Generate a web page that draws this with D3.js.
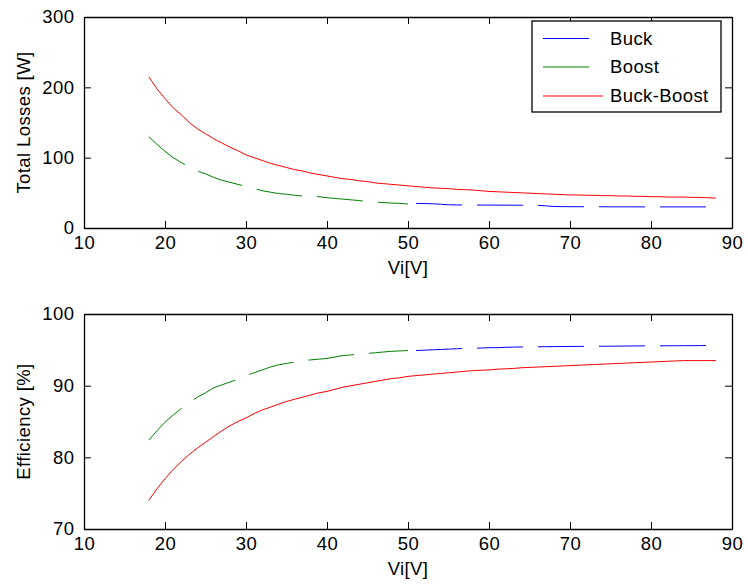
<!DOCTYPE html>
<html>
<head>
<meta charset="utf-8">
<script src="https://cdn.jsdelivr.net/npm/d3@7"></script>
<style>
  html, body { margin: 0; padding: 0; background: #fff; }
  svg { display: block; }
  text { font-family: "Liberation Sans", Arial, sans-serif; font-size: 18.5px; letter-spacing: 0.4px; fill: #000; }
</style>
</head>
<body>
<script>
// ---- Data ----
const viBuckBoost = d3.range(18, 89);          // 18..88 V
const viBoost = d3.range(18, 51);              // 18..50 V
const viBuck = d3.range(51, 88);               // 51..87 V

const lossBoost = [130, 119, 109, 100, 93, 87, 81, 77, 72, 68, 65, 62, 59, 56, 53, 51, 49, 48, 46.5, 45.5,
  45, 44.5, 43, 42, 41, 40, 39, 37.5, 37, 36, 35.5, 35, 34];
const lossBuck = [35, 34.8, 34.5, 33.8, 33, 32.8, 32.7, 32.7, 32.6, 32.6, 32.5, 32.5, 32.4, 32.4, 32.3, 32.3,
  31.5, 30.6, 30.4, 30.3, 30.3, 30.2, 30.2, 30.2, 30.1, 30.1, 30.1, 30.1, 30, 30, 30, 30, 30, 30, 30, 30, 30];
const lossBuckBoost = [215, 198, 184, 171, 161, 150, 141, 134, 127, 121, 115, 110, 104, 100, 96, 92, 89, 86, 83, 81,
  78, 76, 74, 72, 70, 69, 67, 66, 64, 63, 62, 61, 60, 59, 58, 57, 56.5, 56, 55, 54.5,
  54, 53, 52, 51.5, 51, 50.5, 50, 49.5, 49, 48.5, 48, 47.5, 47, 47, 46.5, 46.5, 46, 46, 45.5, 45.5,
  45, 45, 44.5, 44.5, 44, 44, 44, 43.5, 43.5, 43, 42.5];

const effBoost = [82.4, 83.7, 84.9, 85.9, 86.8, 87.6, 88.4, 89.0, 89.7, 90.1, 90.5, 90.9, 91.4, 91.8, 92.2, 92.6,
  92.9, 93.1, 93.3, 93.5, 93.6, 93.7, 93.8, 94.0, 94.2, 94.3, 94.4, 94.5, 94.6, 94.7, 94.8, 94.85, 94.9];
const effBuck = [94.9, 94.95, 95.0, 95.05, 95.1, 95.15, 95.2, 95.2, 95.25, 95.3, 95.3, 95.35, 95.38, 95.4, 95.4,
  95.42, 95.44, 95.45, 95.46, 95.47, 95.48, 95.49, 95.5, 95.5, 95.51, 95.52, 95.53, 95.54, 95.55, 95.55,
  95.56, 95.57, 95.57, 95.58, 95.58, 95.59, 95.6];
const effBuckBoost = [74.0, 75.6, 77.0, 78.3, 79.4, 80.4, 81.3, 82.1, 82.9, 83.7, 84.4, 85.0, 85.5, 86.1, 86.6, 87.0,
  87.4, 87.8, 88.1, 88.4, 88.7, 89.0, 89.2, 89.5, 89.8, 90.0, 90.2, 90.4, 90.6, 90.8, 91.0, 91.1, 91.3,
  91.4, 91.5, 91.6, 91.7, 91.8, 91.9, 92.0, 92.1, 92.15, 92.2, 92.3, 92.35, 92.4, 92.5, 92.55, 92.6, 92.65,
  92.7, 92.75, 92.8, 92.85, 92.9, 92.95, 93.0, 93.05, 93.1, 93.15, 93.2, 93.25, 93.3, 93.35, 93.4, 93.45,
  93.5, 93.5, 93.5, 93.5, 93.5];

const seriesNames = ["Buck", "Boost", "Buck-Boost"];
const seriesColors = ["#0000ff", "#008000", "#ff0000"];

const xTicks = [10, 20, 30, 40, 50, 60, 70, 80, 90];
const lossTicks = [0, 100, 200, 300];
const effTicks = [70, 80, 90, 100];

// ---- Layout ----
const W = 748, H = 586;
const left = 84, right = 732;
const svg = d3.select("body").append("svg").attr("width", W).attr("height", H);
svg.append("rect").attr("width", W).attr("height", H).attr("fill", "#fff");

const x = d3.scaleLinear().domain([10, 90]).range([left, right]);

function panel(top, bottom, yDomain, yTicks, yLabel, data) {
  const y = d3.scaleLinear().domain(yDomain).range([bottom, top]);
  const g = svg.append("g");

  // series
  const line = d3.line().x(d => x(d[0])).y(d => y(d[1]));
  data.forEach(s => {
    g.append("path")
      .datum(s.vi.map((v, i) => [v, s.vals[i]]))
      .attr("d", line)
      .attr("fill", "none")
      .attr("stroke", s.color)
      .attr("stroke-width", 1)
      .attr("stroke-dasharray", s.dash || null);
  });

  // axes (ticks inward on all four sides)
  const ax = (gen, tr) => {
    const a = g.append("g").attr("transform", tr).call(gen);
    a.selectAll("path.domain").attr("stroke", "#000").attr("stroke-width", 1.3);
    a.selectAll(".tick line").attr("stroke", "#000");
    a.attr("font-size", null).attr("font-family", null);
    return a;
  };
  ax(d3.axisBottom(x).tickValues(xTicks).tickSize(-7).tickSizeOuter(0).tickPadding(8).tickFormat(d3.format("d")),
     `translate(0,${bottom})`);
  ax(d3.axisTop(x).tickValues(xTicks).tickSize(-7).tickSizeOuter(0).tickFormat(""),
     `translate(0,${top})`);
  ax(d3.axisLeft(y).tickValues(yTicks).tickSize(-7).tickSizeOuter(0).tickPadding(9.6).tickFormat(d3.format("d")),
     `translate(${left},0)`);
  ax(d3.axisRight(y).tickValues(yTicks).tickSize(-7).tickSizeOuter(0).tickFormat(""),
     `translate(${right},0)`);

  // labels
  g.append("text")
    .attr("x", (left + right) / 2).attr("y", bottom + 46)
    .attr("text-anchor", "middle").text("Vi[V]");
  g.append("text")
    .attr("transform", `translate(30,${(top + bottom) / 2}) rotate(-90)`)
    .attr("text-anchor", "middle").text(yLabel);
  return { g, y };
}

panel(17, 228, [0, 300], lossTicks, "Total Losses [W]", [
  { vi: viBoost, vals: lossBoost, color: seriesColors[1], dash: "46 15" },
  { vi: viBuck, vals: lossBuck, color: seriesColors[0], dash: "46 15" },
  { vi: viBuckBoost, vals: lossBuckBoost, color: seriesColors[2] }
]);

panel(314, 529, [70, 100], effTicks, "Efficiency [%]", [
  { vi: viBoost, vals: effBoost, color: seriesColors[1], dash: "46 15" },
  { vi: viBuck, vals: effBuck, color: seriesColors[0], dash: "46 15" },
  { vi: viBuckBoost, vals: effBuckBoost, color: seriesColors[2] }
]);

// ---- Legend ----
const lg = svg.append("g");
lg.append("rect").attr("x", 532).attr("y", 21).attr("width", 189).attr("height", 91)
  .attr("fill", "#fff").attr("stroke", "#000").attr("stroke-width", 1.3);
const rowY = [38.5, 67, 96];
const lineEnd = [589, 589, 603];
seriesNames.forEach((name, i) => {
  lg.append("line").attr("x1", 543).attr("x2", lineEnd[i]).attr("y1", rowY[i]).attr("y2", rowY[i])
    .attr("stroke", seriesColors[i]).attr("stroke-width", 1);
  lg.append("text").attr("x", 610).attr("y", rowY[i]).attr("dy", "0.35em").text(name);
});
</script>
</body>
</html>
